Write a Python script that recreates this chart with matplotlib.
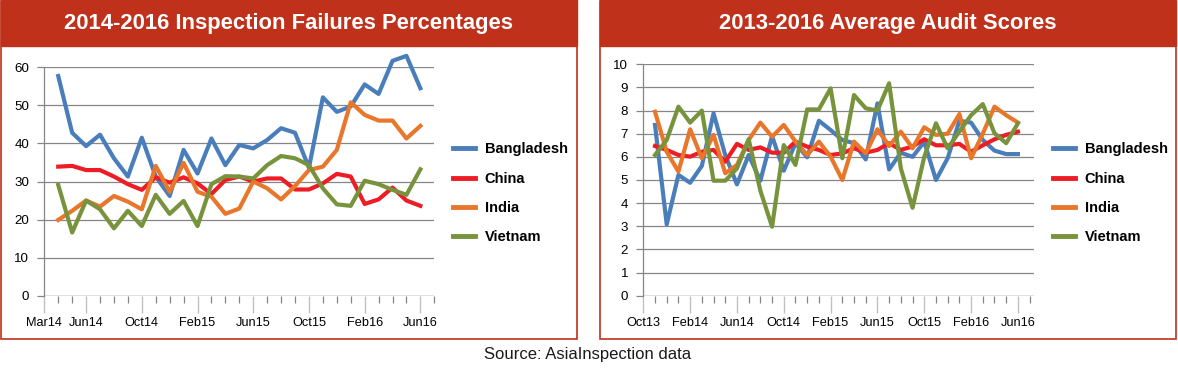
import numpy as np
import matplotlib
matplotlib.use("Agg")
import matplotlib.pyplot as plt
from matplotlib.patches import Rectangle

plt.rcParams['font.family'] = ['Liberation Sans', 'DejaVu Sans']

# Graphique 1 : échecs d'inspection (%) - avril 2014 à juin 2016
mois_g = ["Mar14", "Apr14", "May14", "Jun14", "Jul14", "Aug14", "Sep14", "Oct14", "Nov14", "Dec14",
          "Jan15", "Feb15", "Mar15", "Apr15", "May15", "Jun15", "Jul15", "Aug15", "Sep15",
          "Oct15", "Nov15", "Dec15", "Jan16", "Feb16", "Mar16", "Apr16", "May16", "Jun16", "Jul16"]
bangladesh_g = [57.7, 42.8, 39.3, 42.3, 36.1, 31.3, 41.5, 31.3, 26.2, 38.3, 32.1, 41.3, 34.3, 39.6,
                38.7, 40.9, 44.0, 42.8, 33.6, 52.1, 48.3, 49.7, 55.5, 53.0, 61.7, 63.0, 54.5]
china_g = [33.9, 34.1, 33.0, 33.0, 31.3, 29.3, 27.8, 31.1, 29.7, 31.1, 29.5, 26.7, 30.4, 31.3,
           30.0, 30.8, 30.8, 27.9, 27.9, 29.5, 32.0, 31.3, 24.1, 25.3, 28.4, 25.0, 23.6]
india_g = [19.9, 22.3, 25.0, 23.4, 26.2, 24.7, 22.7, 34.1, 27.3, 34.9, 27.3, 26.0, 21.5, 22.9,
           30.0, 28.2, 25.3, 28.8, 33.0, 33.9, 38.3, 50.8, 47.5, 46.0, 46.0, 41.3, 44.6]
vietnam_g = [29.1, 16.6, 25.0, 22.7, 17.7, 22.3, 18.3, 26.5, 21.5, 24.9, 18.3, 29.3, 31.4, 31.3,
             30.8, 34.3, 36.7, 36.1, 34.3, 28.2, 24.0, 23.6, 30.2, 29.3, 27.8, 26.5, 33.2]
etiquettes_g = ["Mar14", "Jun14", "Oct14", "Feb15", "Jun15", "Oct15", "Feb16", "Jun16"]

# Graphique 2 : scores d'audit moyens - novembre 2013 à juin 2016
mois_d = ["Oct13", "Nov13", "Dec13", "Jan14", "Feb14", "Mar14", "Apr14", "May14", "Jun14", "Jul14",
          "Aug14", "Sep14", "Oct14", "Nov14", "Dec14", "Jan15", "Feb15", "Mar15", "Apr15",
          "May15", "Jun15", "Jul15", "Aug15", "Sep15", "Oct15", "Nov15", "Dec15", "Jan16",
          "Feb16", "Mar16", "Apr16", "May16", "Jun16", "Jul16"]
bangladesh_d = [7.38, 3.08, 5.22, 4.88, 5.61, 7.88, 6.08, 4.81, 6.08, 4.97, 6.90, 5.40, 6.59, 5.98,
                7.56, 7.16, 6.73, 6.59, 5.89, 8.31, 5.46, 6.18, 6.0, 6.65, 5.0, 5.94, 7.56, 7.48,
                6.73, 6.27, 6.12, 6.12]
china_d = [6.47, 6.30, 6.08, 6.01, 6.22, 6.30, 5.79, 6.56, 6.30, 6.41, 6.18, 6.18, 6.66, 6.44,
           6.30, 6.08, 6.15, 6.37, 6.18, 6.30, 6.59, 6.30, 6.45, 6.76, 6.50, 6.50, 6.56, 6.22,
           6.50, 6.76, 6.95, 7.09]
india_d = [7.95, 6.22, 5.36, 7.19, 5.94, 6.95, 5.29, 5.65, 6.73, 7.48, 6.87, 7.38, 6.66, 6.08,
           6.66, 6.01, 5.0, 6.66, 6.15, 7.19, 6.47, 7.09, 6.37, 7.28, 6.95, 7.0, 7.85, 5.94,
           7.0, 8.17, 7.8, 7.48]
vietnam_d = [6.08, 6.73, 8.17, 7.48, 8.0, 4.97, 4.97, 5.50, 6.76, 4.54, 2.98, 6.51, 5.65, 8.05,
             8.05, 8.96, 5.94, 8.67, 8.10, 8.0, 9.18, 5.5, 3.8, 6.0, 7.45, 6.37, 7.09, 7.8,
             8.28, 7.02, 6.59, 7.45]
etiquettes_d = ["Oct13", "Feb14", "Jun14", "Oct14", "Feb15", "Jun15", "Oct15", "Feb16", "Jun16"]

pays = ["Bangladesh", "China", "India", "Vietnam"]
couleurs = ["#4a7ebb", "#ee1c25", "#e8762b", "#77933c"]
rouge_entete = "#bf311a"
gris = "#868686"

W, H = 1178, 373
fig = plt.figure(figsize=(W / 100, H / 100), dpi=100)


def boite(x0, x1, y0, y1):
    # coordonnées en pixels (origine en haut) -> fraction de la figure
    return [x0 / W, 1 - y1 / H, (x1 - x0) / W, (y1 - y0) / H]


# cadres et bandeaux rouges
for x0, x1, titre in [(1, 577, "2014-2016 Inspection Failures Percentages"),
                      (600, 1176, "2013-2016 Average Audit Scores")]:
    fig.patches.append(Rectangle((x0 / W, 1 - 339 / H), (x1 - x0) / W, 338 / H,
                                 transform=fig.transFigure, fill=False,
                                 edgecolor=rouge_entete, linewidth=1.2))
    fig.patches.append(Rectangle((x0 / W, 1 - 46 / H), (x1 - x0) / W, 46 / H,
                                 transform=fig.transFigure, facecolor=rouge_entete,
                                 edgecolor=rouge_entete))
    fig.text((x0 + x1) / 2 / W, 1 - 24 / H, titre, color="white", fontsize=15.8,
             fontweight="bold", ha="center", va="center")

fig.text(588 / W, 1 - 355 / H, "Source: AsiaInspection data", fontsize=12,
         ha="center", va="center", color="#1a1a1a")


def tracer(ax, mois, series, etiquettes, ymax, pas, xmax, leg_y):
    x = np.arange(1, len(series[0]) + 1)
    for s, nom, c in zip(series, pays, couleurs):
        ax.plot(x, s, color=c, lw=3, label=nom, solid_joinstyle="round", clip_on=False)
    ax.set_ylim(0, ymax)
    ax.set_xlim(0, xmax)
    ax.set_yticks(np.arange(0, ymax + pas, pas))
    ax.grid(axis="y", color=gris, lw=0.9)
    ax.set_axisbelow(True)
    for cote in ["top", "right", "bottom"]:
        ax.spines[cote].set_visible(False)
    ax.spines["left"].set_color(gris)
    ax.spines["left"].set_linewidth(0.9)
    ax.axhline(0, color=gris, lw=0.9, zorder=0)
    pos = [mois.index(e) for e in etiquettes]
    ax.set_xticks(pos)
    ax.set_xticklabels(etiquettes)
    ax.set_xticks(np.arange(0, len(mois)), minor=True)
    ax.tick_params(axis="x", which="major", length=12, color="#c0c0c0", width=1,
                   labelsize=9.2, pad=3)
    ax.tick_params(axis="x", which="minor", length=5, color=gris, width=0.9)
    ax.tick_params(axis="y", length=5, color=gris, width=0.9, labelsize=9.6, pad=6)
    ax.patch.set_visible(False)
    leg = ax.legend(loc="center left", bbox_to_anchor=(1.047, leg_y), frameon=False,
                    borderpad=0, borderaxespad=0, handlelength=1.55, handletextpad=0.65,
                    labelspacing=1.05, prop={"weight": "bold", "size": 10.5})
    for l in leg.get_lines():
        l.set_linewidth(3.5)


ax1 = fig.add_axes(boite(44.3, 434.3, 67.3, 295.7))
tracer(ax1, mois_g, [bangladesh_g, china_g, india_g, vietnam_g], etiquettes_g, 60, 10, 28, 0.448)

ax2 = fig.add_axes(boite(643.3, 1034.3, 64.3, 295.7))
tracer(ax2, mois_d, [bangladesh_d, china_d, india_d, vietnam_d], etiquettes_d, 10, 1, 33.4, 0.4425)

fig.savefig("out.png", dpi=100)
